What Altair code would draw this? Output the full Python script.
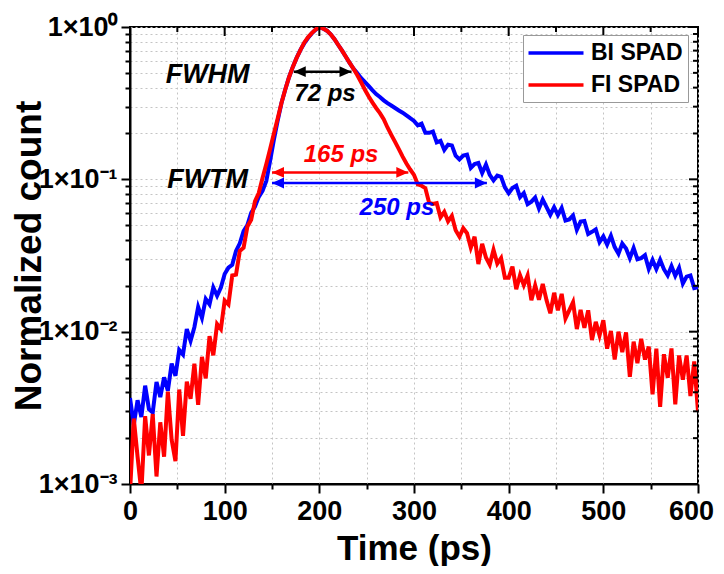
import altair as alt
import pandas as pd

# ---------------- data ----------------
time_ps = list(range(0, 601, 4))

bi_spad = [
    0.00367, 0.00245, 0.00355, 0.00275, 0.00442, 0.00310, 0.00295, 0.00468, 0.00372, 0.00501,
    0.00409, 0.00617, 0.00513, 0.00759, 0.00708, 0.0104, 0.00871, 0.0107, 0.0145, 0.0123,
    0.0164, 0.0151, 0.0195, 0.0172, 0.0195, 0.0239, 0.0263, 0.0275, 0.0339, 0.0380,
    0.0457, 0.0501, 0.0603, 0.0661, 0.0767, 0.0841, 0.0977, 0.132,
    0.182, 0.243, 0.317, 0.389, 0.468, 0.547, 0.627, 0.706, 0.780, 0.847,
    0.908, 0.959, 1.0, 0.977, 0.946, 0.895, 0.832, 0.762, 0.700, 0.637,
    0.582, 0.533, 0.499, 0.463, 0.436, 0.410, 0.385, 0.363, 0.347, 0.330,
    0.316, 0.305, 0.294, 0.283, 0.274, 0.263, 0.252, 0.242,
    0.226, 0.232, 0.202, 0.202, 0.206, 0.175, 0.179, 0.156, 0.169, 0.167,
    0.143, 0.135, 0.143, 0.145, 0.119, 0.126, 0.128, 0.110, 0.125, 0.107,
    0.0984, 0.106, 0.104, 0.0885, 0.0811, 0.0877, 0.0908, 0.0764, 0.0813, 0.0687,
    0.0714, 0.0760, 0.0644, 0.0738, 0.0658, 0.0586, 0.0656, 0.0582, 0.0649, 0.0536,
    0.0545, 0.0579, 0.0466, 0.0528, 0.0533, 0.0438, 0.0452, 0.0469, 0.0387, 0.0422,
    0.0373, 0.0426, 0.0359, 0.0325, 0.0379, 0.0352, 0.0304, 0.0354, 0.0299, 0.0304,
    0.0318, 0.0258, 0.0296, 0.0258, 0.0296, 0.0257, 0.0234, 0.0269, 0.0233, 0.0262,
    0.0207, 0.0230, 0.0234, 0.0193, 0.0196,
]

fi_spad = [
    0.000871, 0.00269, 0.00151, 0.000881, 0.00279, 0.00154, 0.00288, 0.00112, 0.00254, 0.00151,
    0.00404, 0.00195, 0.00141, 0.00417, 0.00207, 0.00469, 0.00363, 0.00617, 0.00331, 0.00684,
    0.00494, 0.00933, 0.00700, 0.0112, 0.0104, 0.0160, 0.0151, 0.0234, 0.0237, 0.0339,
    0.0356, 0.0490, 0.0543, 0.0716, 0.0813, 0.102, 0.126, 0.158,
    0.200, 0.251, 0.317, 0.389, 0.468, 0.547, 0.627, 0.706, 0.789, 0.855,
    0.912, 0.962, 1.0, 0.977, 0.946, 0.895, 0.832, 0.762, 0.700, 0.637,
    0.582, 0.533, 0.484, 0.435, 0.389, 0.351, 0.320, 0.294, 0.272, 0.248,
    0.219, 0.196, 0.176, 0.158, 0.141, 0.127, 0.116, 0.107,
    0.0925, 0.0908, 0.0875, 0.0700, 0.0689, 0.0698, 0.0564, 0.0612, 0.0530, 0.0575,
    0.0463, 0.0420, 0.0478, 0.0443, 0.0356, 0.0420, 0.0278, 0.0377, 0.0307, 0.0275,
    0.0345, 0.0280, 0.0304, 0.0226, 0.0226, 0.0267, 0.0190, 0.0235, 0.0202, 0.0234,
    0.0161, 0.0201, 0.0162, 0.0206, 0.0161, 0.0132, 0.0180, 0.0138, 0.0177, 0.0122,
    0.0138, 0.0156, 0.0104, 0.0139, 0.0106, 0.0138, 0.00881, 0.0116, 0.00944, 0.0119,
    0.00773, 0.0101, 0.00656, 0.0100, 0.00733, 0.00989, 0.00506, 0.00859, 0.00621, 0.00897,
    0.00656, 0.00798, 0.00388, 0.00773, 0.00321, 0.00711, 0.00498, 0.00776, 0.00333, 0.00698,
    0.00483, 0.00697, 0.00378, 0.00638, 0.00299,
]

series_names = ["BI SPAD", "FI SPAD"]
series_colors = ["#0000ff", "#ff0000"]

x_ticks = [0, 50, 100, 150, 200, 250, 300, 350, 400, 450, 500, 550, 600]
x_major = [0, 100, 200, 300, 400, 500, 600]
y_ticks = [0.001, 0.002, 0.003, 0.004, 0.005, 0.006, 0.007, 0.008, 0.009,
           0.01, 0.02, 0.03, 0.04, 0.05, 0.06, 0.07, 0.08, 0.09,
           0.1, 0.2, 0.3, 0.4, 0.5, 0.6, 0.7, 0.8, 0.9, 1]
y_major = [0.001, 0.01, 0.1, 1]
y_major_labels = ["1×10⁻³", "1×10⁻²", "1×10⁻¹", "1×10⁰"]

ann_text = ["FWHM", "FWTM", "72 ps", "165 ps", "250 ps"]
ann_t = [82, 82, 206, 223, 282]
ann_v = [0.429, 0.0877, 0.327, 0.130, 0.0583]
ann_color = ["#000000", "#000000", "#000000", "#ff0000", "#0000ff"]
ann_size = [27, 27, 24, 24, 24]

arrow_t1 = [173, 150, 150]
arrow_t2 = [234, 294, 377]
arrow_v = [0.509, 0.111, 0.0946]
arrow_color = ["#000000", "#ff0000", "#0000ff"]

# ---------------- tables ----------------
assert len(bi_spad) == len(time_ps) and len(fi_spad) == len(time_ps)
curves = pd.DataFrame({
    "t": time_ps + time_ps,
    "v": bi_spad + fi_spad,
    "series": [series_names[0]] * len(time_ps) + [series_names[1]] * len(time_ps),
})
ann_df = pd.DataFrame({"t": ann_t, "v": ann_v, "label": ann_text, "color": ann_color, "size": ann_size})
arrow_df = pd.DataFrame({"t": arrow_t1, "t2": arrow_t2, "v": arrow_v, "color": arrow_color})
arrow_left = pd.DataFrame({"t": arrow_t1, "v": arrow_v, "color": arrow_color})
arrow_right = pd.DataFrame({"t": arrow_t2, "v": arrow_v, "color": arrow_color})
xt_major = pd.DataFrame({"t": [x for x in x_ticks if x in x_major]})
xt_minor = pd.DataFrame({"t": [x for x in x_ticks if x not in x_major]})
yt_major = pd.DataFrame({"v": y_major})
yt_minor = pd.DataFrame({"v": [y for y in y_ticks if y not in y_major]})

W, H = 568, 457
FONT = "Liberation Sans"

y_label_expr = " : ".join(
    f"datum.value == {v} ? '{lab}'" for v, lab in zip(y_major, y_major_labels)
) + " : ''"
y_major_test = "indexof([" + ",".join(str(v) for v in y_major) + "], datum.value) >= 0"

x_enc = alt.X(
    "t:Q",
    scale=alt.Scale(domain=[0, 600], nice=False, zero=False),
    axis=alt.Axis(
        values=x_ticks,
        labelExpr="datum.value % 100 === 0 ? datum.label : ''",
        tickSize={"condition": {"test": "datum.value % 100 === 0", "value": 9}, "value": 5},
        labelOffset={"condition": {"test": "datum.value === 600", "value": -7}, "value": 0},
        labelFlush=False,
        labelOverlap=False,
        labelPadding=5,
        title="Time (ps)",
        titleFontSize=35,
        titlePadding=7,
        grid=True,
    ),
)
y_enc = alt.Y(
    "v:Q",
    scale=alt.Scale(type="log", domain=[0.001, 1], nice=False),
    axis=alt.Axis(
        values=y_ticks,
        labelExpr=y_label_expr,
        tickSize={"condition": {"test": y_major_test, "value": 9}, "value": 5},
        labelFlush=False,
        labelOverlap=False,
        labelPadding=4,
        title="Normalized count",
        titleFontSize=37,
        titlePadding=-10,
        grid=True,
    ),
)

color_enc = alt.Color(
    "series:N",
    scale=alt.Scale(domain=series_names, range=series_colors),
    legend=alt.Legend(
        title=None,
        orient="none",
        legendX=393,
        legendY=8,
        symbolType="M-2.5,0H2.5",
        symbolSize=484,
        symbolStrokeWidth=3.5,
        symbolOffset=15,
        labelOffset=22,
        labelFont=FONT,
        labelFontSize=23,
        labelFontWeight="bold",
        labelColor="black",
        strokeColor="#999999",
        fillColor="white",
        padding=5,
        rowPadding=7,
        cornerRadius=0,
    ),
)

base = alt.Chart(curves)
blue = base.transform_filter(alt.datum.series == series_names[0]).mark_line(
    strokeWidth=4, clip=True
).encode(x=x_enc, y=y_enc, color=color_enc)
red = base.transform_filter(alt.datum.series == series_names[1]).mark_line(
    strokeWidth=4, clip=True
).encode(x=x_enc, y=y_enc, color=color_enc)

arrows = alt.Chart(arrow_df).mark_rule(strokeWidth=2.5).encode(
    x=x_enc, x2="t2:Q", y=y_enc, color=alt.Color("color:N", scale=None)
)
heads_l = alt.Chart(arrow_left).mark_point(
    shape="M0,0L2,-0.9L2,0.9Z", filled=True, size=144, opacity=1
).encode(x=x_enc, y=y_enc, color=alt.Color("color:N", scale=None))
heads_r = alt.Chart(arrow_right).mark_point(
    shape="M0,0L-2,-0.9L-2,0.9Z", filled=True, size=144, opacity=1
).encode(x=x_enc, y=y_enc, color=alt.Color("color:N", scale=None))

texts = alt.Chart(ann_df).mark_text(
    font=FONT, fontWeight="bold", fontStyle="italic", align="center", baseline="alphabetic"
).encode(
    x=x_enc, y=y_enc, text="label:N",
    color=alt.Color("color:N", scale=None),
    size=alt.Size("size:Q", scale=None),
)

top_major = alt.Chart(xt_major).mark_rule(color="black", strokeWidth=2).encode(
    x=x_enc, y=alt.value(0), y2=alt.value(9))
top_minor = alt.Chart(xt_minor).mark_rule(color="black", strokeWidth=2).encode(
    x=x_enc, y=alt.value(0), y2=alt.value(5))
right_major = alt.Chart(yt_major).mark_rule(color="black", strokeWidth=2).encode(
    y=y_enc, x=alt.value(W), x2=alt.value(W - 9))
right_minor = alt.Chart(yt_minor).mark_rule(color="black", strokeWidth=2).encode(
    y=y_enc, x=alt.value(W), x2=alt.value(W - 5))

chart = alt.layer(
    blue, red, arrows, heads_l, heads_r, texts, top_major, top_minor, right_major, right_minor
).properties(
    width=W, height=H,
    autosize=alt.AutoSizeParams(type="none"),
    padding={"left": 122, "top": 19, "right": 16, "bottom": 82},
).configure_axis(
    labelFont=FONT, labelFontSize=27, labelFontWeight="bold", labelColor="black",
    titleFont=FONT, titleFontWeight="bold", titleColor="black",
    domainColor="black", domainWidth=2, tickColor="black", tickWidth=2,
    gridColor="#c4c4c4", gridDash=[2, 3], gridWidth=1,
).configure_view(stroke="black", strokeWidth=2)

chart.save("out.html", embed_options={"renderer": "svg", "actions": False})
